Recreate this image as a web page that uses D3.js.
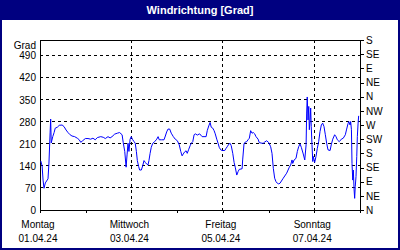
<!DOCTYPE html>
<html>
<head>
<meta charset="utf-8">
<script src="https://cdn.jsdelivr.net/npm/d3@7"></script>
<style>
  body { margin: 0; background: #fff; }
  svg { display: block; font-family: "Liberation Sans", Arial, sans-serif; }
</style>
</head>
<body>
<svg width="400" height="250"></svg>
<script>
// wind direction readings: hours since 01.04.24 00:00 and degrees
const hours = [0.4,1.1,1.6,2.1,2.8,4.2,4.7,5.3,5.6,5.9,6.7,7.4,8.0,9.1,10.1,11.6,12.6,13.7,14.7,15.8,16.8,18.2,19.6,20.6,21.4,22.4,23.8,25.2,26.6,27.8,29.0,30.1,31.9,33.2,34.3,35.7,36.8,37.8,39.2,40.6,41.8,
  43.1,43.7,44.5,45.2,45.7,46.2,46.7,47.3,47.9,48.7,49.4,50.0,50.6,51.1,51.8,52.3,53.2,53.9,54.6,55.3,56.0,56.7,57.2,57.8,58.4,59.2,60.2,61.3,62.0,62.6,63.7,65.1,65.8,66.5,67.2,68.1,68.9,70.0,71.0,72.1,73.1,73.9,74.6,75.2,76.0,76.7,77.3,78.1,78.8,79.4,80.2,80.9,81.5,82.6,83.8,
  85.1,86.1,87.2,87.8,88.6,89.3,89.9,90.7,91.4,92.0,92.8,93.5,94.1,94.9,95.6,97.0,97.7,98.3,99.1,99.8,100.4,101.2,101.9,102.5,103.3,104.0,104.6,106.1,106.4,107.1,107.8,108.5,109.2,109.9,110.6,111.3,112.0,112.7,113.4,114.5,115.1,116.6,117.2,118.0,119.0,120.1,121.1,121.8,122.5,123.2,123.9,124.6,125.3,
  126.0,127.7,129.5,130.9,131.6,132.3,132.7,133.4,134.4,135.1,135.8,136.5,137.2,138.2,139.0,139.7,140.0,140.3,140.7,141.1,141.4,141.8,142.1,142.4,142.8,143.2,143.5,144.2,144.9,145.6,146.3,147.0,147.7,148.4,149.1,149.8,150.5,151.2,152.3,152.9,153.7,154.7,155.4,156.1,157.1,158.2,159.2,160.3,161.0,161.7,162.1,162.8,163.1,163.5,163.8,164.2,164.5,164.9,165.2,165.5,165.9,166.3,166.6,167.0,167.3]
const degrees = [156,140,95,69,86,99,149,245,289,213,233,246,260,263,269,270,265,254,246,239,235,233,228,223,215,220,227,227,225,228,223,230,233,231,227,233,229,233,241,244,246,
  239,214,186,136,175,212,186,225,233,223,217,212,186,157,138,127,127,140,157,151,146,143,157,180,199,212,217,225,233,223,223,223,235,248,257,257,244,233,225,220,207,186,172,178,185,188,180,193,204,212,217,239,242,238,242,
  233,233,233,252,267,278,263,260,252,242,225,212,199,191,189,189,196,201,209,212,204,180,151,136,111,122,129,131,159,210,216,217,223,228,252,244,246,242,233,225,214,212,212,216,220,214,201,180,132,101,90,85,83,
  85,101,117,136,143,159,148,159,164,186,201,210,199,178,159,207,308,359,286,329,255,286,324,265,207,154,170,151,170,196,217,249,270,276,265,239,212,191,189,207,225,239,233,223,217,225,228,239,257,274,281,270,281,255,148,95,127,64,37,74,106,170,233,276,299]

const leftTicks = [0, 70, 140, 210, 280, 350, 420, 490]
const compass = ['N','NE','E','SE','S','SW','W','NW','N','NE','E','SE','S']
const dayNames = ['Montag','Mittwoch','Freitag','Sonntag']
const dayDates = ['01.04.24','03.04.24','05.04.24','07.04.24']

const svg = d3.select('svg')
const width = +svg.attr('width')
const height = +svg.attr('height')
const margin = {top: 40, right: 40, bottom: 40, left: 40}
const navy = '#000080'

const start = new Date(2024, 3, 1)
const toDate = h => new Date(start.getTime() + h * 3600000)
const data = hours.map((h, i) => ({t: toDate(h), v: degrees[i]}))

const x = d3.scaleTime()
  .domain([start, toDate(168)])
  .range([margin.left, width - margin.right])
const y = d3.scaleLinear()
  .domain([0, 540])
  .range([height - margin.bottom, margin.top])

// frame + title bar
svg.append('rect').attr('x', 1).attr('y', 1).attr('width', width - 2).attr('height', height - 2)
  .attr('fill', '#fff').attr('stroke', navy).attr('stroke-width', 2)
svg.append('rect').attr('x', 0).attr('y', 0).attr('width', width).attr('height', 20).attr('fill', navy)
svg.append('text').attr('x', width / 2).attr('y', 14).attr('text-anchor', 'middle')
  .attr('fill', '#fff').attr('font-weight', 'bold').attr('font-size', 11)
  .text('Windrichtung [Grad]')

// grid
const grid = svg.append('g').attr('stroke', '#000').attr('stroke-dasharray', '3,3').attr('shape-rendering', 'crispEdges')
grid.selectAll('.hg').data(leftTicks.slice(1)).enter().append('line')
  .attr('x1', margin.left).attr('x2', width - margin.right)
  .attr('y1', d => y(d)).attr('y2', d => y(d))
const gridDays = [2, 4, 6].map(d => toDate(d * 24))
grid.selectAll('.vg').data(gridDays).enter().append('line')
  .attr('x1', d => x(d)).attr('x2', d => x(d))
  .attr('y1', margin.top).attr('y2', height - margin.bottom)

// left axis
const yl = svg.append('g').attr('transform', `translate(${margin.left},0)`)
  .call(d3.axisLeft(y).tickValues(leftTicks).tickSize(0).tickPadding(4))
yl.select('.domain').remove()
yl.selectAll('text').attr('font-size', 10).attr('fill', '#000').attr('font-family', null)
svg.append('text').attr('x', 36).attr('y', 49).attr('text-anchor', 'end')
  .attr('font-size', 10).text('Grad')

// right axis (compass)
const yr = svg.append('g').attr('transform', `translate(${width - margin.right},0)`)
  .call(d3.axisRight(y).tickValues(d3.range(0, 541, 45)).tickSize(4).tickPadding(2)
    .tickFormat((d, i) => compass[i]))
yr.select('.domain').remove()
yr.selectAll('text').attr('font-size', 10).attr('fill', '#000').attr('font-family', null)
yr.selectAll('line').attr('shape-rendering', 'crispEdges')

// bottom axis
const xb = svg.append('g').attr('transform', `translate(0,${height - margin.bottom})`)
  .call(d3.axisBottom(x).ticks(d3.timeDay.every(1)).tickSize(3).tickFormat(''))
xb.select('.domain').remove()
xb.selectAll('line').attr('shape-rendering', 'crispEdges')
const labelDays = [0, 2, 4, 6].map(d => toDate(d * 24))
svg.selectAll('.dn').data(labelDays).enter().append('text')
  .attr('x', d => x(d) - 2).attr('y', 228).attr('text-anchor', 'middle')
  .attr('font-size', 10).text((d, i) => dayNames[i])
svg.selectAll('.dd').data(labelDays).enter().append('text')
  .attr('x', d => x(d) - 2).attr('y', 242).attr('text-anchor', 'middle')
  .attr('font-size', 10).text((d, i) => dayDates[i])

// plot border
svg.append('rect').attr('x', margin.left).attr('y', margin.top)
  .attr('width', width - margin.left - margin.right).attr('height', height - margin.top - margin.bottom)
  .attr('fill', 'none').attr('stroke', '#000').attr('shape-rendering', 'crispEdges')

// line
const line = d3.line().x(d => x(d.t)).y(d => y(d.v))
svg.append('path').datum(data)
  .attr('fill', 'none').attr('stroke', '#0000ff').attr('stroke-width', 1)
  .attr('d', line)
</script>
</body>
</html>
